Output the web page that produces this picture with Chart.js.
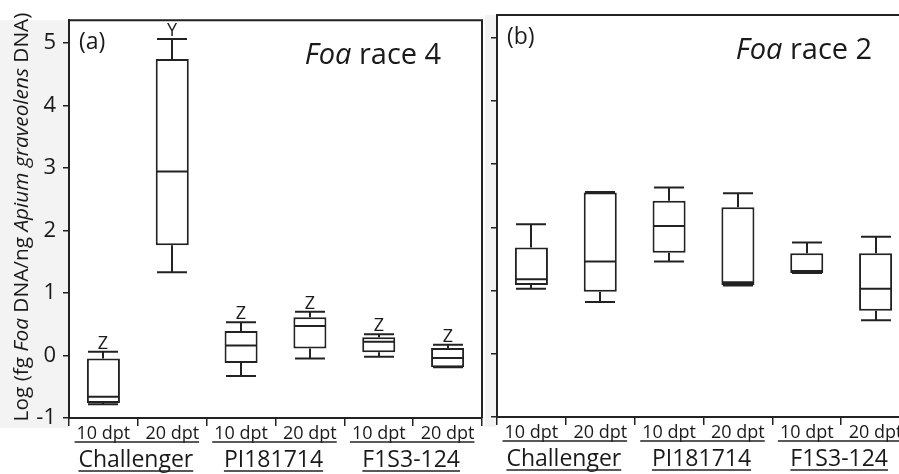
<!DOCTYPE html>
<html>
<head>
<meta charset="utf-8">
<script src="https://cdn.jsdelivr.net/npm/chart.js@4.4.0/dist/chart.umd.min.js"></script>
<style>
  html, body { margin: 0; padding: 0; background: #fff; overflow: hidden; }
  #wrap { position: relative; width: 899px; height: 474px; overflow: hidden; }
  #panelA { position: absolute; left: 0; top: 0; }
  #panelB { position: absolute; left: 485px; top: 0; }
</style>
</head>
<body>
<div id="wrap">
  <canvas id="panelA" width="490" height="474"></canvas>
  <canvas id="panelB" width="425" height="474"></canvas>
</div>
<script>
var timepoints = ['10 dpt', '20 dpt', '10 dpt', '20 dpt', '10 dpt', '20 dpt'];
var cultivars = ['Challenger', 'PI181714', 'F1S3-124'];
var yTicks = [-1, 0, 1, 2, 3, 4, 5];

// Foa race 4 (panel a)
var race4Min    = [-0.78, 1.33, -0.33, -0.05, -0.02, -0.19];
var race4Q1     = [-0.76, 1.76, -0.12,  0.11,  0.05, -0.19];
var race4Median = [-0.66, 2.94,  0.16,  0.47,  0.22, -0.04];
var race4Q3     = [-0.05, 4.74,  0.39,  0.61,  0.29,  0.12];
var race4Max    = [ 0.06, 5.06,  0.53,  0.70,  0.34,  0.17];
var race4Letters = ['Z', 'Y', 'Z', 'Z', 'Z', 'Z'];

// Foa race 2 (panel b)
var race2Min    = [1.03, 0.82, 1.46, 1.08, 1.28, 0.53];
var race2Q1     = [1.09, 0.98, 1.60, 1.09, 1.28, 0.68];
var race2Median = [1.18, 1.46, 2.02, 1.13, 1.31, 1.03];
var race2Q3     = [1.68, 2.55, 2.42, 2.32, 1.59, 1.59];
var race2Max    = [2.05, 2.56, 2.63, 2.54, 1.76, 1.85];

var FONT = '"Open Sans", "DejaVu Sans", sans-serif';
var INK = '#222222';

function drawParts(ctx, parts, x, y, size) {
  // draws text pieces (some italic) centred on x
  var total = 0;
  parts.forEach(function (p) {
    ctx.font = (p.italic ? 'italic ' : '') + size + 'px ' + FONT;
    p.w = ctx.measureText(p.text).width;
    total += p.w;
  });
  var cx = x - total / 2;
  parts.forEach(function (p) {
    ctx.font = (p.italic ? 'italic ' : '') + size + 'px ' + FONT;
    ctx.fillText(p.text, cx, y);
    cx += p.w;
  });
}

// whiskers, medians and letters over the floating bars
var boxDetails = {
  id: 'boxDetails',
  afterDatasetsDraw: function (chart, args, opts) {
    var ctx = chart.ctx, xs = chart.scales.x, ys = chart.scales.y;
    var half = 16;
    ctx.save();
    ctx.strokeStyle = INK;
    ctx.lineWidth = 2;
    opts.median.forEach(function (m, i) {
      var cx = Math.round(xs.getPixelForValue(i));
      var yLo = ys.getPixelForValue(opts.min[i]);
      var yQ1 = ys.getPixelForValue(opts.q1[i]);
      var yMed = ys.getPixelForValue(m);
      var yQ3 = ys.getPixelForValue(opts.q3[i]);
      var yHi = ys.getPixelForValue(opts.max[i]);
      ctx.beginPath();
      ctx.moveTo(cx, yQ3); ctx.lineTo(cx, yHi);
      ctx.moveTo(cx - half + 1, yHi); ctx.lineTo(cx + half - 1, yHi);
      ctx.moveTo(cx, yQ1); ctx.lineTo(cx, yLo);
      ctx.moveTo(cx - half + 1, yLo); ctx.lineTo(cx + half - 1, yLo);
      ctx.moveTo(cx - half, yMed); ctx.lineTo(cx + half, yMed);
      ctx.stroke();
      if (opts.letters) {
        ctx.fillStyle = '#1a1a1a';
        ctx.font = '18px ' + FONT;
        ctx.textAlign = 'center';
        ctx.textBaseline = 'alphabetic';
        ctx.fillText(opts.letters[i], cx, yHi - 3);
      }
    });
    ctx.restore();
  }
};

// frame, labels, underlines, titles
var panelDecor = {
  id: 'panelDecor',
  beforeDraw: function (chart, args, opts) {
    var ctx = chart.ctx, a = chart.chartArea;
    ctx.save();
    ctx.fillStyle = '#f3f3f3';
    ctx.fillRect(0, a.top, a.left - 1, a.bottom - a.top + 10);
    ctx.restore();
  },
  afterDraw: function (chart, args, opts) {
    var ctx = chart.ctx, a = chart.chartArea, xs = chart.scales.x;
    ctx.save();
    ctx.strokeStyle = INK;
    ctx.lineWidth = 2;
    ctx.beginPath();
    ctx.moveTo(a.left, a.bottom); ctx.lineTo(a.left, a.top);
    ctx.lineTo(a.right, a.top);
    if (opts.closed) ctx.lineTo(a.right, a.bottom);
    ctx.stroke();

    ctx.fillStyle = '#1a1a1a';
    ctx.textBaseline = 'alphabetic';
    ctx.textAlign = 'left';

    // tick label underlines and cultivar names
    ctx.font = '18px ' + FONT;
    var tw = ctx.measureText(timepoints[0]).width;
    ctx.lineWidth = 1.5;
    cultivars.forEach(function (name, g) {
      var x0 = xs.getPixelForValue(2 * g), x1 = xs.getPixelForValue(2 * g + 1);
      var cx = (x0 + x1) / 2;
      ctx.beginPath();
      ctx.moveTo(x0 - tw / 2 - 2, a.bottom + 24); ctx.lineTo(x1 + tw / 2, a.bottom + 24);
      ctx.stroke();
      ctx.font = '23px ' + FONT;
      var nw = ctx.measureText(name).width;
      ctx.textAlign = 'center';
      ctx.fillText(name, cx - 2, a.bottom + 49);
      ctx.beginPath();
      ctx.moveTo(cx - 2 - nw / 2, a.bottom + 53); ctx.lineTo(cx - 2 + nw / 2, a.bottom + 53);
      ctx.stroke();
    });

    // panel letter and race title
    ctx.textAlign = 'left';
    ctx.font = '23px ' + FONT;
    ctx.fillText(opts.tag, a.left + 10, a.top + 29);
    drawParts(ctx, [{ text: 'Foa', italic: true }, { text: opts.race }], a.left + opts.titleX, a.top + 44, 29);

    // rotated y axis title
    if (opts.yTitle) {
      var parts = [
        { text: 'Log (fg ' }, { text: 'Foa', italic: true }, { text: ' DNA/ng ' },
        { text: 'Apium graveolens', italic: true }, { text: ' DNA)' }
      ];
      var w = 0;
      parts.forEach(function (p) {
        ctx.font = (p.italic ? 'italic ' : '') + '18px ' + FONT;
        w += ctx.measureText(p.text).width;
      });
      var size = 18 * 409 / w;
      ctx.translate(28, 217);
      ctx.rotate(-Math.PI / 2);
      ctx.textAlign = 'left';
      drawParts(ctx, parts, 0, 0, size);
    }
    ctx.restore();
  }
};

function makeBoxChart(id, q1, q3, details, decor, yWidth, xHeight, padRight, showYLabels) {
  var boxes = q1.map(function (v, i) { return [v, q3[i]]; });
  return new Chart(document.getElementById(id), {
    type: 'bar',
    data: {
      labels: timepoints,
      datasets: [{
        data: boxes,
        backgroundColor: '#ffffff',
        borderColor: INK,
        borderWidth: 2,
        borderSkipped: false,
        barPercentage: 0.48,
        categoryPercentage: 1
      }]
    },
    options: {
      responsive: false,
      animation: false,
      events: [],
      layout: { padding: { top: 15, right: padRight, left: 0, bottom: 0 } },
      plugins: {
        legend: { display: false },
        tooltip: { enabled: false },
        boxDetails: details,
        panelDecor: decor
      },
      scales: {
        x: {
          offset: true,
          grid: { display: true, drawOnChartArea: false, drawTicks: true, tickLength: 8, color: INK, lineWidth: 1.5 },
          border: { display: true, color: INK, width: 2 },
          ticks: { color: '#1a1a1a', font: { family: FONT, size: 18 }, padding: -3, maxRotation: 0, autoSkip: false },
          afterFit: function (s) { s.height = xHeight; }
        },
        y: {
          min: -1,
          max: 5.36,
          afterBuildTicks: function (s) { s.ticks = yTicks.map(function (v) { return { value: v }; }); },
          grid: { display: true, drawOnChartArea: false, drawTicks: true, tickLength: 6, color: INK, lineWidth: 1.5 },
          border: { display: true, color: INK, width: 2 },
          ticks: { display: showYLabels, color: '#1a1a1a', font: { family: FONT, size: 22 }, padding: 7 },
          afterFit: function (s) { s.width = yWidth; }
        }
      }
    },
    plugins: [boxDetails, panelDecor]
  });
}

makeBoxChart('panelA', race4Q1, race4Q3,
  { min: race4Min, q1: race4Q1, median: race4Median, q3: race4Q3, max: race4Max, letters: race4Letters },
  { closed: true, tag: '(a)', race: ' race 4', titleX: 304, yTitle: true },
  69, 56, 8, true);

makeBoxChart('panelB', race2Q1, race2Q3,
  { min: race2Min, q1: race2Q1, median: race2Median, q3: race2Q3, max: race2Max },
  { closed: false, tag: '(b)', race: ' race 2', titleX: 307, yTitle: false },
  12, 57, 0, false);
</script>
</body>
</html>
